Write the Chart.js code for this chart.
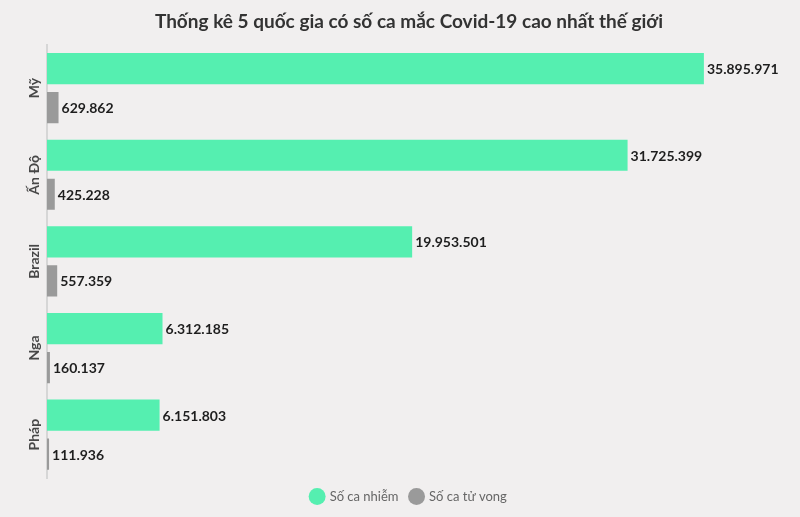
<!DOCTYPE html>
<html>
<head>
<meta charset="utf-8">
<script src="https://cdn.jsdelivr.net/npm/chart.js@4/dist/chart.umd.min.js"></script>
<style>
    html, body { margin: 0; padding: 0; background: #f1efef; }
    #wrap { width: 800px; height: 517px; }
</style>
</head>
<body>
<div id="wrap"><canvas id="chart"></canvas></div>
<script>
// Dữ liệu
const countries = ["Mỹ", "Ấn Độ", "Brazil", "Nga", "Pháp"];
const cases = [35895971, 31725399, 19953501, 6312185, 6151803];
const deaths = [629862, 425228, 557359, 160137, 111936];
const seriesNames = ["Số ca nhiễm", "Số ca tử vong"];

function formatNumber(n) {
    return n.toString().replace(/\B(?=(\d{3})+(?!\d))/g, ".");
}

// Ghi số ở đầu mỗi thanh
const valueLabels = {
    id: "valueLabels",
    afterDatasetsDraw(chart) {
        const ctx = chart.ctx;
        ctx.save();
        ctx.font = "bold 14px Lato";
        ctx.fillStyle = "#1e1e1e";
        ctx.textAlign = "left";
        ctx.textBaseline = "middle";
        chart.data.datasets.forEach(function(ds, i) {
            chart.getDatasetMeta(i).data.forEach(function(bar, j) {
                ctx.fillText(formatNumber(ds.data[j]), bar.x + 3, bar.y + 1);
            });
        });
        ctx.restore();
    }
};

// Nhãn trục dọc xoay 90 độ
const rotatedLabels = {
    id: "rotatedLabels",
    afterDraw(chart) {
        const ctx = chart.ctx;
        const y = chart.scales.y;
        ctx.save();
        ctx.font = "bold 14px Lato";
        ctx.fillStyle = "#474747";
        ctx.textAlign = "center";
        ctx.textBaseline = "middle";
        chart.data.labels.forEach(function(label, i) {
            ctx.save();
            ctx.translate(34, y.getPixelForTick(i));
            ctx.rotate(-Math.PI / 2);
            ctx.fillText(label, 0, 0);
            ctx.restore();
        });
        ctx.restore();
    }
};

const config = {
    type: "bar",
    data: {
        labels: countries,
        datasets: [{
            label: seriesNames[0],
            data: cases,
            backgroundColor: "#55efb0"
        }, {
            label: seriesNames[1],
            data: deaths,
            backgroundColor: "#9a9a9a"
        }]
    },
    options: {
        indexAxis: "y",
        responsive: true,
        maintainAspectRatio: false,
        animation: false,
        categoryPercentage: 0.9,
        barPercentage: 0.8,
        layout: { padding: { left: 39, right: 21, top: 0, bottom: 4 } },
        scales: {
            x: {
                min: 0,
                max: 40000000,
                display: false
            },
            y: {
                grid: { display: false },
                border: { display: true, color: "#d6d6d6", width: 2 },
                ticks: { display: false }
            }
        },
        plugins: {
            title: {
                display: true,
                text: "Thống kê 5 quốc gia có số ca mắc Covid-19 cao nhất thế giới",
                color: "#333",
                font: { family: "Lato", size: 19, weight: "bold" },
                padding: { top: 10, bottom: 12 }
            },
            legend: {
                position: "bottom",
                labels: {
                    usePointStyle: true,
                    pointStyle: "circle",
                    boxWidth: 12,
                    boxHeight: 12,
                    color: "#666",
                    font: { family: "Lato", size: 13 },
                    padding: 12
                }
            },
            tooltip: { enabled: false }
        }
    },
    plugins: [valueLabels, rotatedLabels]
};

new Chart(document.getElementById("chart").getContext("2d"), config);
</script>
</body>
</html>
